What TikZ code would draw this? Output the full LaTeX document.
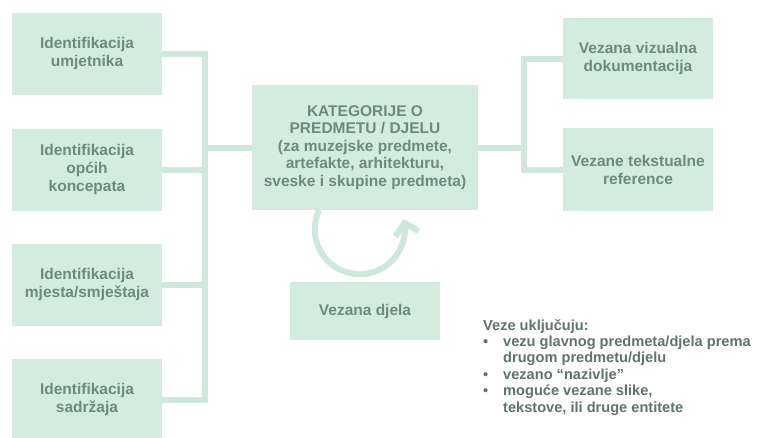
\documentclass[tikz,border=0pt]{standalone}
\usepackage{fontspec}
\setmainfont{Liberation Sans}
\usetikzlibrary{arrows.meta}
\definecolor{boxfill}{HTML}{D4EBE0}
\definecolor{wirecol}{HTML}{CFE8DB}
\definecolor{boxtext}{HTML}{6E8A7D}
\definecolor{notetext}{HTML}{607469}
\begin{document}
\begin{tikzpicture}[x=1pt,y=-1pt,
  card/.style={fill=boxfill, draw=none, text=boxtext, align=center,
    font=\bfseries\fontsize{15.5}{18}\selectfont, inner sep=0pt},
  sidecard/.style={card, minimum width=150pt, minimum height=82pt},
  wire/.style={draw=wirecol, line width=6pt}]
\useasboundingbox (0,0) rectangle (764,437);
\fill[white] (0,0) rectangle (764,437);

% identification boxes on the left
\node[sidecard] (idart) at (87,53.5) {Identifikacija\\umjetnika};
\node[sidecard] (idcon) at (87,169.5) {Identifikacija\\općih\\koncepata};
\node[sidecard] (idpla) at (87,284.5) {Identifikacija\\mjesta/smještaja};
\node[sidecard] (idsub) at (87,399.5) {Identifikacija\\sadržaja};

% central category box
\node[card, minimum width=226pt, minimum height=125pt, font=\bfseries\fontsize{15.5}{17.6}\selectfont]
  (cat) at (365,147.5) {KATEGORIJE O\\PREDMETU / DJELU\\(za muzejske predmete,\\artefakte, arhitekturu,\\sveske i skupine predmeta)};

% related works
\node[card, minimum width=150pt, minimum height=58pt] (rel) at (365,311) {Vezana djela};

% related documentation on the right
\node[sidecard, minimum height=81pt] (vis) at (638,58.5) {Vezana vizualna\\dokumentacija};
\node[sidecard, minimum height=83pt] (txt) at (638,169.5) {Vezane tekstualne\\reference};

% left bus
\coordinate (lbus) at (205,147.5);
\draw[wire] (idart.east) -| (lbus);
\draw[wire] (idsub.east) -| (lbus);
\draw[wire] (idcon.east) -- (idcon.east -| lbus);
\draw[wire] (idpla.east) -- (idpla.east -| lbus);
\draw[wire] (lbus) -- (cat.west);

% right bus
\coordinate (rbus) at (524,147.5);
\draw[wire] (cat.east) -- (rbus);
\draw[wire] (vis.west) -| (rbus);
\draw[wire] (txt.west) -| (rbus);

% self-relation loop below the category box
\draw[wire, -{Straight Barb[length=11pt,width=24pt]}]
  ([xshift=-46pt]cat.south) arc[start angle=-155, end angle=-373, radius=45];

% notes
\node[anchor=north west, align=left, text=notetext, inner sep=0pt,
  font=\bfseries\fontsize{14.6}{16.4}\selectfont] (note) at (483,319)
  {Veze uključuju:\\
   \makebox[20pt][l]{\textbullet}vezu glavnog predmeta/djela prema\\
   \hspace*{20pt}drugom predmetu/djelu\\
   \makebox[20pt][l]{\textbullet}vezano “nazivlje”\\
   \makebox[20pt][l]{\textbullet}moguće vezane slike,\\
   \hspace*{20pt}tekstove, ili druge entitete};
\end{tikzpicture}
\end{document}
